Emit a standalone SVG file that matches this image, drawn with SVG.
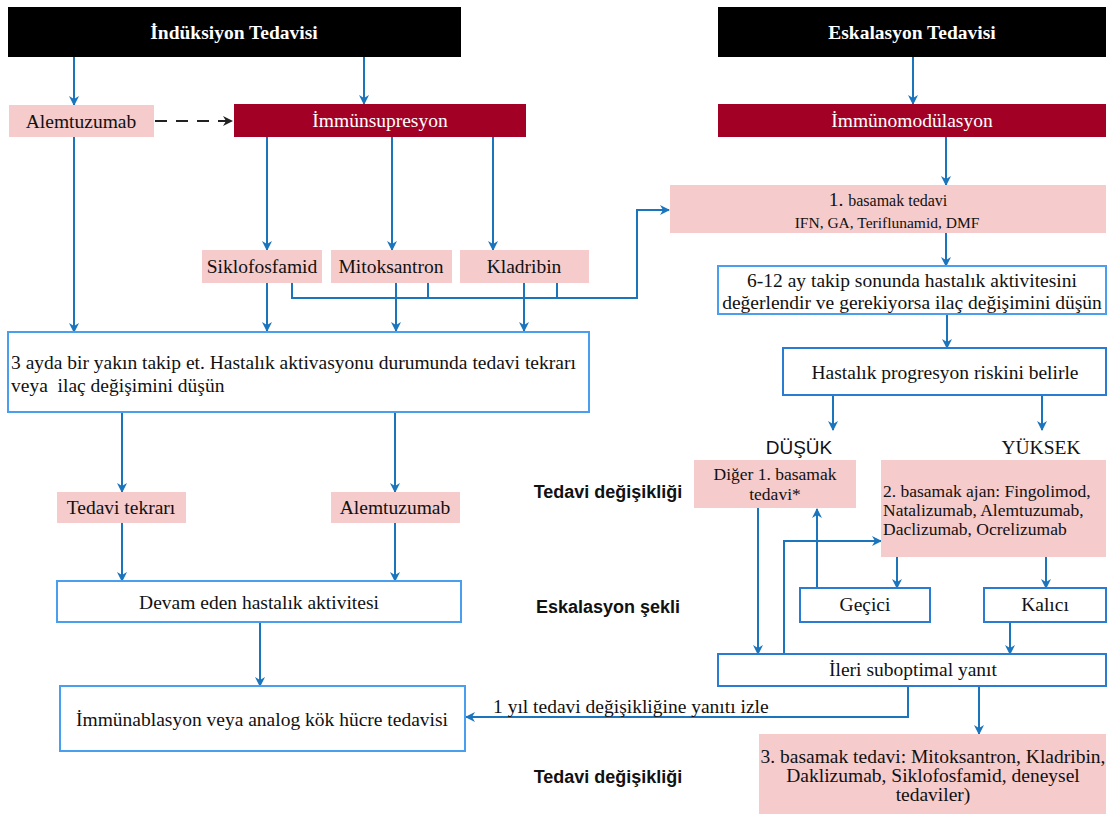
<svg xmlns="http://www.w3.org/2000/svg" width="1109" height="816" viewBox="0 0 1109 816">
<defs>
<marker id="ab" viewBox="0 0 10 10" refX="9" refY="5" markerWidth="10" markerHeight="10" markerUnits="userSpaceOnUse" orient="auto">
<path d="M0,0 L10,5 L0,10 L3,5 z" fill="#1B75BC"/>
</marker>
<marker id="ak" viewBox="0 0 10 10" refX="9" refY="5" markerWidth="10" markerHeight="10" markerUnits="userSpaceOnUse" orient="auto">
<path d="M0,0 L10,5 L0,10 L3,5 z" fill="#222"/>
</marker>
<style>
.hd{fill:#000}
.hdt{font-family:"Liberation Serif",serif;font-weight:bold;font-size:19.5px;fill:#fff;text-anchor:middle}
.pk{fill:#F6CBCB}
.dr{fill:#A20025}
.wb{fill:#fff;stroke:#4A9EEE;stroke-width:2}
.wb2{fill:#fff;stroke:#2A7CD3;stroke-width:2}
.t{font-family:"Liberation Serif",serif;font-size:19.5px;fill:#111}
.s15{font-size:15.5px}
.s16{font-size:16px}
.s17{font-size:17.5px}
.tc{text-anchor:middle}
.tw{fill:#fff}
.lb{font-family:"Liberation Sans",Arial,sans-serif;font-weight:bold;font-size:18px;fill:#111;text-anchor:middle}
.ls{font-family:"Liberation Sans",Arial,sans-serif;font-size:19px;fill:#111;text-anchor:middle}
.c{fill:none;stroke:#1B75BC;stroke-width:2}
.ca{fill:none;stroke:#1B75BC;stroke-width:2;marker-end:url(#ab)}
</style>
</defs>

<g id="connectors">
<line class="ca" x1="74" y1="57" x2="74" y2="105"/>
<line class="ca" x1="364" y1="57" x2="364" y2="104"/>
<line class="ca" x1="913" y1="57" x2="913" y2="104"/>
<line x1="155" y1="121" x2="232" y2="121" stroke="#222" stroke-width="2" stroke-dasharray="12,9" marker-end="url(#ak)"/>
<line class="ca" x1="74" y1="137" x2="74" y2="332"/>
<line class="ca" x1="267" y1="137" x2="267" y2="250"/>
<line class="ca" x1="392" y1="137" x2="392" y2="250"/>
<line class="ca" x1="493" y1="137" x2="493" y2="250"/>
<line class="ca" x1="267" y1="283" x2="267" y2="331"/>
<line class="ca" x1="396" y1="283" x2="396" y2="331"/>
<line class="ca" x1="524" y1="283" x2="524" y2="331"/>
<polyline class="ca" points="292,283 292,298 637,298 637,210 669,210"/>
<line class="c" x1="428" y1="283" x2="428" y2="298"/>
<line class="c" x1="557" y1="283" x2="557" y2="298"/>
<line class="ca" x1="946" y1="137" x2="946" y2="185"/>
<line class="ca" x1="946" y1="233" x2="946" y2="266"/>
<line class="ca" x1="947" y1="314" x2="947" y2="348"/>
<line class="ca" x1="833" y1="395" x2="833" y2="430"/>
<line class="ca" x1="1042" y1="395" x2="1042" y2="430"/>
<line class="ca" x1="122" y1="412" x2="122" y2="492"/>
<line class="ca" x1="395" y1="412" x2="395" y2="492"/>
<line class="ca" x1="122" y1="523" x2="122" y2="581"/>
<line class="ca" x1="395" y1="523" x2="395" y2="581"/>
<line class="ca" x1="260" y1="622" x2="260" y2="686"/>
<line class="ca" x1="758" y1="508" x2="758" y2="654"/>
<line class="ca" x1="817" y1="588" x2="817" y2="509"/>
<polyline class="ca" points="784,654 784,541 881,541"/>
<line class="ca" x1="897" y1="557" x2="897" y2="588"/>
<line class="ca" x1="1046" y1="557" x2="1046" y2="588"/>
<line class="ca" x1="1010" y1="622" x2="1010" y2="654"/>
<polyline class="ca" points="908,686 908,717 466,717"/>
<line class="ca" x1="979" y1="686" x2="979" y2="734"/>
</g>

<g id="induksiyon"><rect class="hd" x="8" y="7" width="453" height="50"/><text class="hdt" x="234" y="39">İndüksiyon Tedavisi</text></g>
<g id="eskalasyon"><rect class="hd" x="718" y="7" width="388" height="50"/><text class="hdt" x="912" y="39">Eskalasyon Tedavisi</text></g>

<g id="alemtuzumab1"><rect class="pk" x="9" y="105" width="145" height="32"/><text class="t tc" x="81" y="128">Alemtuzumab</text></g>
<g id="immunsupresyon"><rect class="dr" x="234" y="104" width="292" height="33"/><text class="t tc tw" x="380" y="127">İmmünsupresyon</text></g>
<g id="siklofosfamid"><rect class="pk" x="202" y="250" width="120" height="33"/><text class="t tc" x="262" y="273">Siklofosfamid</text></g>
<g id="mitoksantron"><rect class="pk" x="331" y="250" width="121" height="33"/><text class="t tc" x="391" y="273">Mitoksantron</text></g>
<g id="kladribin"><rect class="pk" x="460" y="250" width="129" height="33"/><text class="t tc" x="524" y="273">Kladribin</text></g>
<g id="takip"><rect class="wb" x="8" y="332" width="581" height="80"/>
<text class="t" x="11" y="369">3 ayda bir yakın takip et. Hastalık aktivasyonu durumunda tedavi tekrarı</text>
<text class="t" x="11" y="392" xml:space="preserve">veya  ilaç değişimini düşün</text></g>
<g id="tekrar"><rect class="pk" x="57" y="492" width="129" height="31"/><text class="t tc" x="121" y="514">Tedavi tekrarı</text></g>
<g id="alemtuzumab2"><rect class="pk" x="331" y="492" width="129" height="31"/><text class="t tc" x="395" y="514">Alemtuzumab</text></g>
<g id="devam"><rect class="wb" x="57" y="581" width="404" height="41"/><text class="t tc" x="259" y="609">Devam eden hastalık aktivitesi</text></g>
<g id="immunablasyon"><rect class="wb" x="60" y="686" width="405" height="65"/><text class="t tc" x="262" y="726">İmmünablasyon veya analog kök hücre tedavisi</text></g>

<g id="immunomodulasyon"><rect class="dr" x="718" y="104" width="388" height="33"/><text class="t tc tw" x="912" y="127">İmmünomodülasyon</text></g>
<g id="basamak1"><rect class="pk" x="670" y="185" width="436" height="48"/>
<text class="t tc" x="888" y="206"><tspan>1. </tspan><tspan class="s16">basamak tedavi</tspan></text>
<text class="t tc s15" x="887" y="228">IFN, GA, Teriflunamid, DMF</text></g>
<g id="degerlendir"><rect class="wb" x="718" y="266" width="388" height="48"/>
<text class="t tc" x="912" y="287">6-12 ay takip sonunda hastalık aktivitesini</text>
<text class="t tc" x="912" y="309">değerlendir ve gerekiyorsa ilaç değişimini düşün</text></g>
<g id="progresyon"><rect class="wb2" x="783" y="348" width="323" height="47"/><text class="t tc" x="945" y="379">Hastalık progresyon riskini belirle</text></g>
<g id="dusuk"><text class="ls" x="799" y="454">DÜŞÜK</text></g>
<g id="yuksek"><text class="t tc" x="1041" y="454">YÜKSEK</text></g>
<g id="diger"><rect class="pk" x="694" y="460" width="162" height="48"/>
<text class="t tc s17" x="775" y="480">Diğer 1. basamak</text>
<text class="t tc s17" x="775" y="500">tedavi*</text></g>
<g id="basamak2"><rect class="pk" x="881" y="460" width="225" height="97"/>
<text class="t s17" x="883" y="497">2. basamak ajan: Fingolimod,</text>
<text class="t s17" x="883" y="516">Natalizumab, Alemtuzumab,</text>
<text class="t s17" x="883" y="535">Daclizumab, Ocrelizumab</text></g>
<g id="gecici"><rect class="wb2" x="800" y="588" width="130" height="34"/><text class="t tc" x="865" y="611">Geçici</text></g>
<g id="kalici"><rect class="wb2" x="984" y="588" width="122" height="34"/><text class="t tc" x="1045" y="611">Kalıcı</text></g>
<g id="ileri"><rect class="wb2" x="718" y="654" width="388" height="32"/><text class="t tc" x="913" y="676">İleri suboptimal yanıt</text></g>
<g id="basamak3"><rect class="pk" x="759" y="734" width="347" height="80"/>
<text class="t tc" x="933" y="763">3. basamak tedavi: Mitoksantron, Kladribin,</text>
<text class="t tc" x="933" y="782">Daklizumab, Siklofosfamid, deneysel</text>
<text class="t tc" x="933" y="801">tedaviler)</text></g>

<g id="labels">
<text class="lb" x="608" y="498">Tedavi değişikliği</text>
<text class="lb" x="608" y="613">Eskalasyon şekli</text>
<text class="lb" x="608" y="783">Tedavi değişikliği</text>
<text class="t" x="493" y="713">1 yıl tedavi değişikliğine yanıtı izle</text>
</g>
</svg>
